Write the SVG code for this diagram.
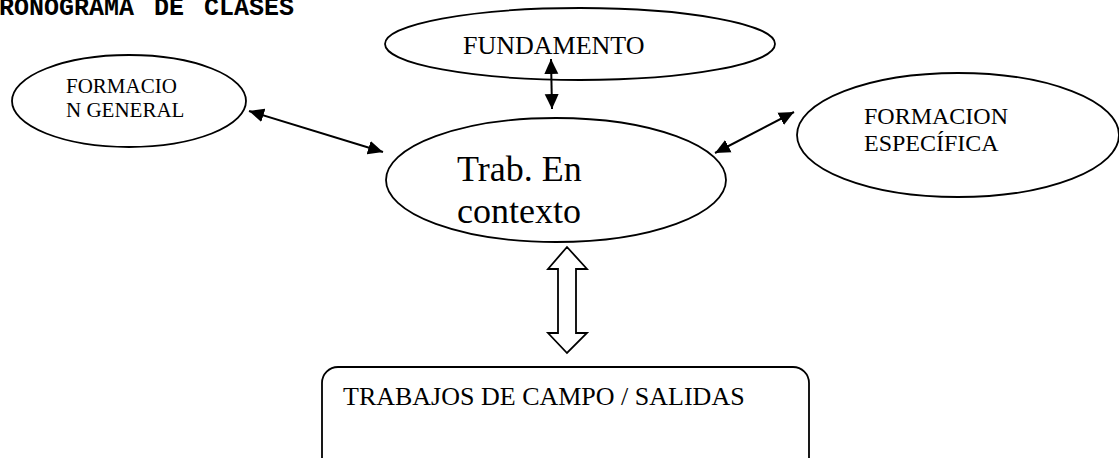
<svg xmlns="http://www.w3.org/2000/svg" width="1119" height="458" viewBox="0 0 1119 458">
<style>
.shape{fill:#fff;stroke:#000;stroke-width:1.8}
.t{font-family:"Liberation Serif","Times New Roman",serif;fill:#000}
.conn{stroke:#000;stroke-width:2;fill:none}
.title{font-family:"Liberation Mono","Courier New",monospace;font-weight:bold;font-size:25px;fill:#000;word-spacing:5px}
</style>
<defs>
<marker id="ah" markerUnits="userSpaceOnUse" markerWidth="16" markerHeight="16" viewBox="0 0 16 16" refX="15" refY="8" orient="auto-start-reverse">
<path d="M0,1 L15,8 L0,15 Z" fill="#000"/>
</marker>
</defs>
<rect width="1119" height="458" fill="#fff"/>
<text class="title" x="-1" y="15">RONOGRAMA DE CLASES</text>
<g id="fundamento">
<ellipse class="shape" cx="580" cy="44" rx="195" ry="36"/>
<text class="t" x="463" y="54" font-size="26">FUNDAMENTO</text>
</g>
<g id="formacion-general">
<ellipse class="shape" cx="129" cy="101" rx="117" ry="46"/>
<text class="t" font-size="21"><tspan x="66" y="93">FORMACIO</tspan><tspan x="66" y="117">N GENERAL</tspan></text>
</g>
<g id="formacion-especifica">
<ellipse class="shape" cx="958" cy="135" rx="161" ry="62"/>
<text class="t" font-size="24"><tspan x="864" y="124">FORMACION</tspan><tspan x="864" y="151">ESPECÍFICA</tspan></text>
</g>
<g id="trab-contexto">
<ellipse class="shape" cx="556" cy="180" rx="170" ry="62"/>
<text class="t" font-size="36"><tspan x="457" y="181">Trab. En</tspan><tspan x="457" y="223">contexto</tspan></text>
</g>
<g id="trabajos-campo">
<rect class="shape" x="322" y="367" width="487" height="110" rx="16" ry="16"/>
<text class="t" x="343" y="405" font-size="26">TRABAJOS DE CAMPO / SALIDAS</text>
</g>
<g id="connectors">
<line class="conn" x1="551" y1="59" x2="552" y2="109" marker-start="url(#ah)" marker-end="url(#ah)"/>
<line class="conn" x1="249" y1="111" x2="383" y2="152" marker-start="url(#ah)" marker-end="url(#ah)"/>
<line class="conn" x1="794" y1="112" x2="715" y2="153" marker-start="url(#ah)" marker-end="url(#ah)"/>
<polygon class="shape" points="567,247 587,269 576,269 576,333 587,333 567,353 548,333 558,333 558,269 548,269"/>
</g>
</svg>
